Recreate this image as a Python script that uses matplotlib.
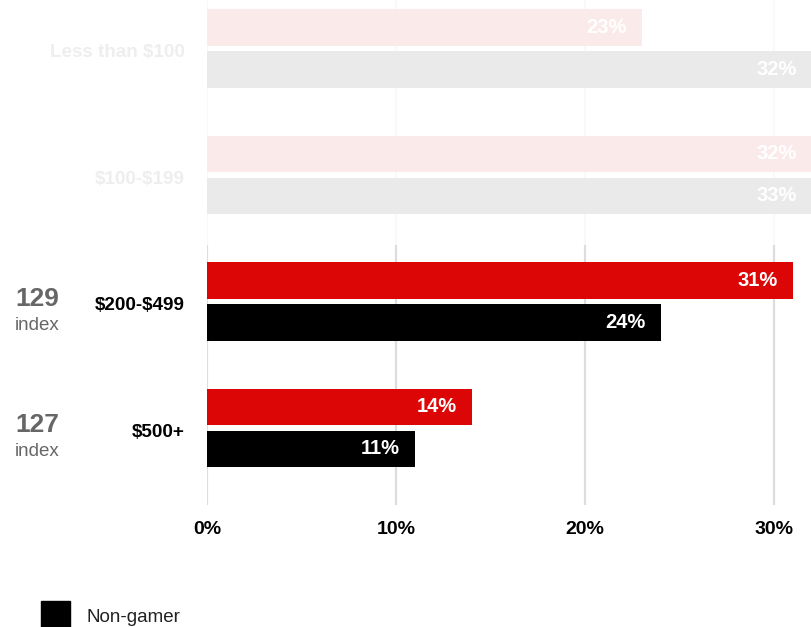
import matplotlib.pyplot as plt
from matplotlib.patches import Rectangle
import numpy as np

plt.rcParams['font.family'] = ['Liberation Sans', 'DejaVu Sans']
plt.rcParams['text.parse_math'] = False

# data
categories = ['Less than $100', '$100-$199', '$200-$499', '$500+']
gamer = [23, 32, 31, 14]
non_gamer = [32, 33, 24, 11]
index_vals = [None, None, 129, 127]
faded = [True, True, False, False]
ticks = [0, 10, 20, 30]

RED = '#dc0606'
RED_FADE = '#fbeaea'
GREY_FADE = '#eaeaea'

W, H = 812, 627
fig = plt.figure(figsize=(W / 100, H / 100), dpi=100)
# axes box in pixels: x from 207 to right edge, y from top to 505
ax = fig.add_axes([207 / W, 1 - 505 / H, 1 - 207 / W, 505 / H])
ax.set_xlim(0, 32.0)
ax.set_ylim(3.609, -0.383)
for s in ax.spines.values():
    s.set_visible(False)
ax.set_xticks([])
ax.set_yticks([])

y = np.arange(len(categories))
bh = 0.29
off = 0.166

# grid lines: faint over the faded rows, solid below
split = 1.553
for t in ticks:
    ax.vlines(t, -0.383, split, color='#f8f8f8', lw=1.2, zorder=0)
    ax.vlines(t, split, 3.609, color='#dddddd', lw=1.6, zorder=0)

xmax = ax.get_xlim()[1]
for i in range(len(categories)):
    c1 = RED_FADE if faded[i] else RED
    c2 = GREY_FADE if faded[i] else 'black'
    ax.barh(y[i] - off, gamer[i], height=bh, color=c1, zorder=2)
    ax.barh(y[i] + off, non_gamer[i], height=bh, color=c2, zorder=2)
    for v, yy in ((gamer[i], y[i] - off), (non_gamer[i], y[i] + off)):
        ax.annotate(f'{v}%', (min(v, xmax), yy), xytext=(-11, 0),
                    textcoords='offset points', ha='right', va='center',
                    color='white', fontsize=14.5, fontweight='bold', zorder=3)
    lab_col = '#eeeeee' if faded[i] else 'black'
    ax.annotate(categories[i], (0, y[i]), xytext=(-16, -3),
                textcoords='offset points', ha='right', va='center',
                color=lab_col, fontsize=13.6, fontweight='bold')
    if index_vals[i] is not None:
        ax.annotate(str(index_vals[i]), (0, y[i]), xycoords=('figure fraction', 'data'),
                    xytext=(27, 2), textcoords='offset points', ha='center',
                    va='center', color='#666666', fontsize=19, fontweight='bold')
        ax.annotate('index', (0, y[i]), xycoords=('figure fraction', 'data'),
                    xytext=(27, -17), textcoords='offset points', ha='center',
                    va='center', color='#666666', fontsize=13.5)

# x tick labels under the axis
for t in ticks:
    ax.annotate(f'{t}%', (t, 3.609), xytext=(0, -18), textcoords='offset points',
                ha='center', va='center', fontsize=14, fontweight='bold',
                annotation_clip=False)

# legend swatch
fig.add_artist(Rectangle((41 / W, 0), 29 / W, 26 / H, transform=fig.transFigure,
                         color='black'))
fig.text(87 / W, 1 - 617 / H, 'Non-gamer', fontsize=13.5, va='center', ha='left',
         color='#222222')

fig.savefig('out.png', dpi=100)
